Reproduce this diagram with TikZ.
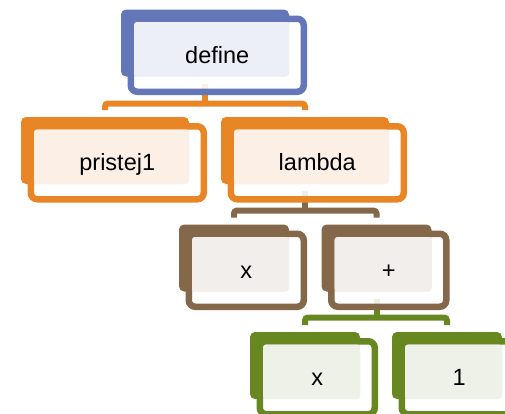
\documentclass[tikz,border=0pt]{standalone}
\usepackage{fontspec}
\setmainfont{Liberation Sans}
\pgfdeclarelayer{background}
\pgfsetlayers{background,main}

\definecolor{cblue}{RGB}{98,118,184}
\definecolor{cbluelt}{RGB}{236,239,247}
\definecolor{corange}{RGB}{232,134,38}
\definecolor{corangelt}{RGB}{252,240,230}
\definecolor{cbrown}{RGB}{133,103,74}
\definecolor{cbrownlt}{RGB}{241,238,235}
\definecolor{cgreen}{RGB}{103,136,32}
\definecolor{cgreenlt}{RGB}{238,241,232}

\tikzset{
  backbox/.style={rectangle, rounded corners=5pt, inner sep=0pt, outer sep=0pt,
    minimum height=67pt},
  framebox/.style={rectangle, rounded corners=6.5pt, inner sep=0pt, outer sep=0pt,
    line width=6.5pt, fill=white, fill opacity=0.88, minimum height=73pt},
  facebox/.style={rectangle, rounded corners=3pt, inner sep=0pt, outer sep=0pt,
    minimum height=54.5pt},
  caption/.style={inner sep=0pt, anchor=base, text=black,
    font=\fontsize{23.5}{28}\selectfont},
  link/.style={line width=6pt},
}

% #1 name, #2 left, #3 top, #4 width, #5 dark colour, #6 light colour, #7 text
\newcommand\treebox[7]{%
  \node[backbox, fill=#5, minimum width=#4pt] (#1back) at ({#2+#4/2}, {#3+33.5}) {};
  \node[framebox, draw=#5, minimum width={#4pt+5pt}] (#1frame) at ({#2+#4/2+12.25}, {#3+45.75}) {};
  \node[facebox, fill=#6, minimum width={#4pt-13pt}] (#1face) at ({#2+13+(#4-13)/2}, {#3+39.75}) {};
  \node[caption] (#1) at ({#2+#4/2+12.25}, {#3+53.5}) {#7};
}

\begin{document}
\begin{tikzpicture}[x=1pt, y=-1pt]
\useasboundingbox (0,0) rectangle (505,413);
\clip (0,0) rectangle (505,413);

\treebox{define}{121}{9.5}{168}{cblue}{cbluelt}{define}
\treebox{pristej}{21}{117}{168}{corange}{corangelt}{pristej1}
\treebox{lambda}{221}{117}{168}{corange}{corangelt}{lambda}
\treebox{xa}{179}{224.5}{110}{cbrown}{cbrownlt}{x}
\treebox{plus}{321.5}{224.5}{110}{cbrown}{cbrownlt}{+}
\treebox{xb}{250}{332}{110}{cgreen}{cgreenlt}{x}
\treebox{one}{392}{332}{110}{cgreen}{cgreenlt}{1}

\coordinate (barA) at (0,103.5);
\coordinate (barB) at (0,210.5);
\coordinate (barC) at (0,317.5);

\begin{pgfonlayer}{background}
  % define -> pristej1, lambda
  \draw[link, draw=corange] ([yshift=-7pt]defineback.south) -- (defineback.south |- barA);
  \draw[link, draw=corange, rounded corners=3pt]
    ([yshift=7pt]pristejback.north) |- (barA -| lambdaback.north) -- ([yshift=7pt]lambdaback.north);
  % lambda -> x, +
  \draw[link, draw=cbrown] ([yshift=-7pt]lambdaback.south) -- (lambdaback.south |- barB);
  \draw[link, draw=cbrown, rounded corners=3pt]
    ([yshift=7pt]xaback.north) |- (barB -| plusback.north) -- ([yshift=7pt]plusback.north);
  % + -> x, 1
  \draw[link, draw=cgreen] ([yshift=-7pt]plusback.south) -- (plusback.south |- barC);
  \draw[link, draw=cgreen, rounded corners=3pt]
    ([yshift=7pt]xbback.north) |- (barC -| oneback.north) -- ([yshift=7pt]oneback.north);
\end{pgfonlayer}
\end{tikzpicture}
\end{document}
